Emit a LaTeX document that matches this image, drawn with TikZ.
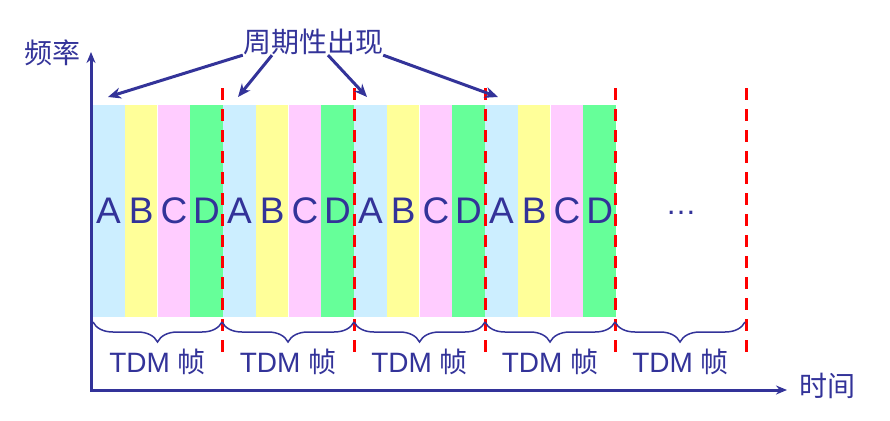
\documentclass[tikz,border=0pt]{standalone}
\usepackage{fontspec}
\setmainfont{Liberation Sans}
\newfontfamily\cjk{Noto Sans CJK SC}
\usetikzlibrary{arrows.meta,decorations.pathreplacing}
\definecolor{ink}{HTML}{333399}
\definecolor{slota}{HTML}{CCEEFF}
\definecolor{slotb}{HTML}{FFFF99}
\definecolor{slotc}{HTML}{FFCCFF}
\definecolor{slotd}{HTML}{66FF99}
\begin{document}
\begin{tikzpicture}[x=1pt,y=-1pt]
        \tikzset{
            slot/.style={rectangle, minimum width=32.75pt, minimum height=212pt,
            inner sep=0pt, text=ink, font=\fontsize{37}{37}\selectfont},
            sa/.style={slot, fill=slota},
            sb/.style={slot, fill=slotb},
            sc/.style={slot, fill=slotc},
            sd/.style={slot, fill=slotd},
            lbl/.style={text=ink, inner sep=0pt, font=\fontsize{28}{28}\selectfont},
            sep/.style={red, line width=3pt, dash pattern=on 12pt off 9pt},
            axis/.style={ink, line width=3pt, {Stealth[length=11pt,width=9pt]}-{Stealth[length=11pt,width=9pt]}},
            note/.style={ink, line width=3pt, -{Stealth[length=13pt,width=11pt]}},
            frm/.style={ink, line width=1.5pt, decorate,
            decoration={brace, mirror, amplitude=20pt}}
            }
            \useasboundingbox (0,0) rectangle (890,420);

            % frame 1
            \node[sa] (a1) at (108.4,211) {A};
            \node[sb] (b1) at (141.1,211) {B};
            \node[sc] (c1) at (173.9,211) {C};
            \node[sd] (d1) at (206.6,211) {D};
            % frame 2
            \node[sa] (a2) at (239.4,211) {A};
            \node[sb] (b2) at (272.1,211) {B};
            \node[sc] (c2) at (304.9,211) {C};
            \node[sd] (d2) at (337.6,211) {D};
            % frame 3
            \node[sa] (a3) at (370.4,211) {A};
            \node[sb] (b3) at (403.1,211) {B};
            \node[sc] (c3) at (435.9,211) {C};
            \node[sd] (d3) at (468.6,211) {D};
            % frame 4
            \node[sa] (a4) at (501.4,211) {A};
            \node[sb] (b4) at (534.1,211) {B};
            \node[sc] (c4) at (566.9,211) {C};
            \node[sd] (d4) at (599.6,211) {D};
            \node[lbl, font=\fontsize{31}{31}\selectfont] (dots) at (681,213) {…};

            % frame borders
            \coordinate (t1) at (222,88);  \coordinate (u1) at (222,352);
            \coordinate (t2) at (354,88);  \coordinate (u2) at (354,352);
            \coordinate (t3) at (485,88);  \coordinate (u3) at (485,352);
            \coordinate (t4) at (615,88);  \coordinate (u4) at (615,352);
            \coordinate (t5) at (746,88);  \coordinate (u5) at (746,352);
            \draw[sep] (t1) -- (u1);
            \draw[sep] (t2) -- (u2);
            \draw[sep] (t3) -- (u3);
            \draw[sep] (t4) -- (u4);
            \draw[sep] (t5) -- (u5);

            % braces
            \coordinate (g0) at (93,322);
            \coordinate (g1) at (222,322);
            \coordinate (g2) at (354,322);
            \coordinate (g3) at (485,322);
            \coordinate (g4) at (615,322);
            \coordinate (g5) at (745,322);
            \draw[frm] (g0) to (g1);
            \draw[frm] (g1) to (g2);
            \draw[frm] (g2) to (g3);
            \draw[frm] (g3) to (g4);
            \draw[frm] (g4) to (g5);
            \node[lbl] (f1) at (157.5,362) {TDM {\cjk 帧}};
            \node[lbl] (f2) at (288,362) {TDM {\cjk 帧}};
            \node[lbl] (f3) at (419.5,362) {TDM {\cjk 帧}};
            \node[lbl] (f4) at (550,362) {TDM {\cjk 帧}};
            \node[lbl] (f5) at (680.5,362) {TDM {\cjk 帧}};

            % axes
            \coordinate (o) at (91,390);
            \coordinate (ytop) at (91,52);
            \coordinate (xend) at (787,390);
            \draw[axis] (ytop) -- (o) -- (xend);
            \node[lbl] (freq) at (52,53) {\cjk 频率};
            \node[lbl] (time) at (827,386) {\cjk 时间};

            % periodic
            \node[lbl] (per) at (313,42) {\cjk 周期性出现};
            \coordinate (p1) at (108,97);
            \coordinate (p2) at (238,97);
            \coordinate (p3) at (367,97);
            \coordinate (p4) at (498,97);
            \draw[note] (per.south west) to (p1);
            \draw[note] ([xshift=-41pt]per.south) to (p2);
            \draw[note] ([xshift=15pt]per.south) to (p3);
            \draw[note] (per.south east) to (p4);
        \end{tikzpicture}
\end{document}
